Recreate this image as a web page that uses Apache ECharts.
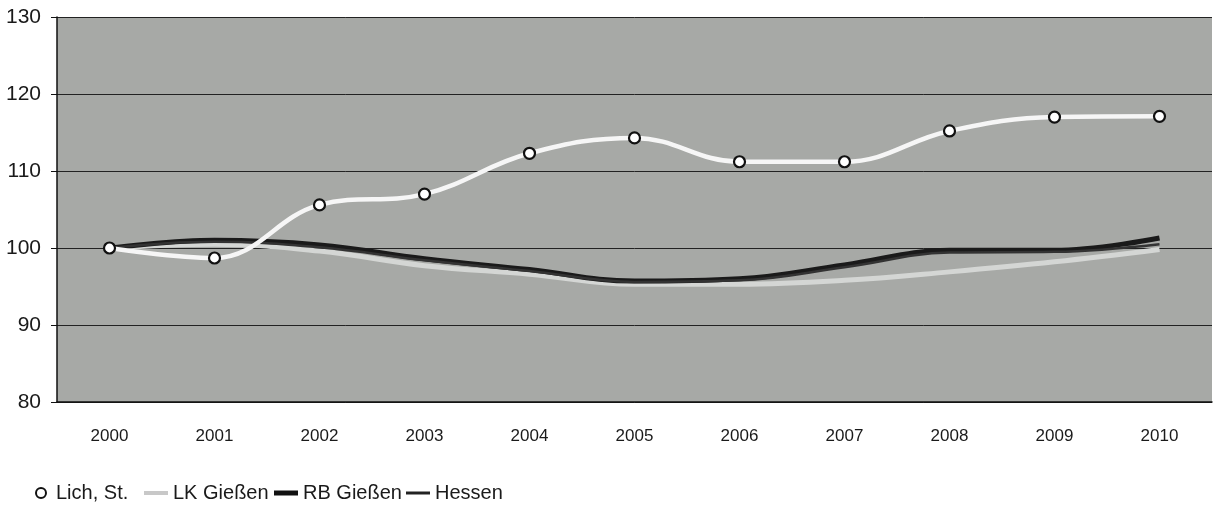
<!DOCTYPE html>
<html><head><meta charset="utf-8">
<script src="https://cdn.jsdelivr.net/npm/echarts@6/dist/echarts.min.js"></script>
<style>html,body{margin:0;padding:0;background:#fff}#c{width:1215px;height:517px}</style>
</head><body><div id="c"></div>
<script>
const years = ['2000','2001','2002','2003','2004','2005','2006','2007','2008','2009','2010'];
const lich = [100, 98.7, 105.6, 107.0, 112.3, 114.3, 111.2, 111.2, 115.2, 117.0, 117.1];
const lkGiessen = [100, 100.5, 99.6, 97.7, 96.6, 95.3, 95.3, 95.8, 96.9, 98.2, 99.8];
const rbGiessen = [100, 101.0, 100.4, 98.6, 97.2, 95.7, 96.0, 97.8, 99.7, 99.7, 101.3];
const hessen = [100, 100.8, 100.1, 98.4, 97.0, 95.6, 95.8, 97.5, 99.4, 99.5, 100.5];
const yTicks = {min: 80, max: 130, interval: 10};

const FONT = '"Liberation Sans", Arial, sans-serif';
const chart = echarts.init(document.getElementById('c'));
const legendBase = {top: 483, padding: 0, itemWidth: 24, itemHeight: 4, itemGap: 2, textStyle: {fontFamily: FONT, fontSize: 20, color: '#1a1a1a'}};
chart.setOption({
  animation: false,
  grid: {left: 57, right: 3, top: 17, bottom: 115, show: true, backgroundColor: '#a7a9a6', borderWidth: 0},
  legend: [
    Object.assign({}, legendBase, {left: 35, itemWidth: 10, itemHeight: 10, itemGap: 11,
      textStyle: Object.assign({}, legendBase.textStyle, {padding: [0, 0, 0, 5]}),
      data: [{name: 'Lich, St.', icon: 'circle', itemStyle: {color: '#fff', borderColor: '#111', borderWidth: 2}}]}),
    Object.assign({}, legendBase, {left: 144, data: [{name: 'LK Gießen', icon: 'rect', itemStyle: {color: '#c8c8c8'}}]}),
    Object.assign({}, legendBase, {left: 274, itemHeight: 5, data: [{name: 'RB Gießen', icon: 'rect', itemStyle: {color: '#111'}}]}),
    Object.assign({}, legendBase, {left: 406, itemHeight: 3, data: [{name: 'Hessen', icon: 'rect', itemStyle: {color: '#222'}}]})
  ],
  xAxis: {
    type: 'category', data: years, boundaryGap: true,
    axisLine: {lineStyle: {color: '#111', width: 1.5}},
    axisTick: {length: 6, lineStyle: {color: '#111', width: 1.5}},
    axisLabel: {fontFamily: FONT, fontSize: 17, color: '#1a1a1a', margin: 26}
  },
  yAxis: {
    type: 'value', min: yTicks.min, max: yTicks.max, interval: yTicks.interval,
    axisLine: {show: true, lineStyle: {color: '#111', width: 1.5}},
    axisTick: {show: true, length: 6, lineStyle: {color: '#111'}},
    axisLabel: {fontFamily: FONT, fontSize: 21, color: '#1a1a1a', margin: 16},
    splitLine: {lineStyle: {color: '#222', width: 1}}
  },
  series: [
    {name: 'LK Gießen', type: 'line', data: lkGiessen, smooth: 0.4, symbol: 'none',
     lineStyle: {color: '#d4d6d4', width: 5}, itemStyle: {color: '#d4d6d4'}, z: 2},
    {name: 'RB Gießen', type: 'line', data: rbGiessen, smooth: 0.4, symbol: 'none',
     lineStyle: {color: '#1a1a1a', width: 5}, itemStyle: {color: '#1a1a1a'}, z: 3},
    {name: 'Hessen', type: 'line', data: hessen, smooth: 0.4, symbol: 'none',
     lineStyle: {color: '#333', width: 2.5}, itemStyle: {color: '#333'}, z: 4},
    {name: 'Lich, St.', type: 'line', data: lich, smooth: 0.4, symbol: 'circle', symbolSize: 11,
     lineStyle: {color: '#f6f6f6', width: 4.5}, itemStyle: {color: '#fff', borderColor: '#111', borderWidth: 2.2}, z: 5}
  ]
});
</script></body></html>
